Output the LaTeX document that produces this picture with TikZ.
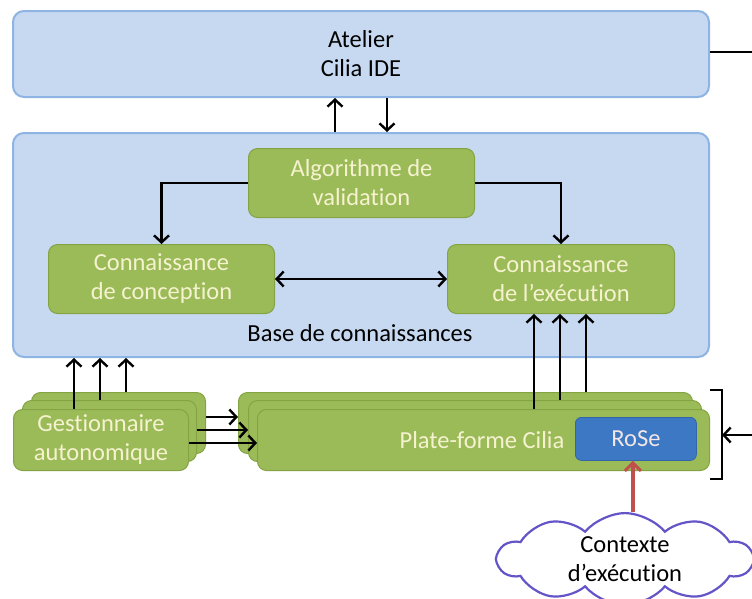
\documentclass[tikz,border=0pt]{standalone}
\usepackage{fontspec}
\setmainfont[RawFeature=-liga]{Carlito}
\usetikzlibrary{arrows.meta,shapes.symbols}
\definecolor{bluefill}{HTML}{C6D9F1}
\definecolor{blueline}{HTML}{8EB4E3}
\definecolor{greenfill}{HTML}{9BBB59}
\definecolor{greenline}{HTML}{84A444}
\definecolor{cream}{HTML}{F6F2CF}
\definecolor{rosefill}{HTML}{3D78C4}
\definecolor{rosetext}{HTML}{F2E6E6}
\definecolor{redarrow}{HTML}{C0504D}
\definecolor{cloudline}{HTML}{6355C8}
\begin{document}
\begin{tikzpicture}[x=1pt,y=-1pt,
  font=\fontsize{24.5}{29}\selectfont,
  bluebox/.style={draw=blueline, fill=bluefill, line width=2pt, rounded corners=11pt, inner sep=0pt, anchor=north west, align=center},
  greenbox/.style={draw=greenline, fill=greenfill, line width=1pt, rounded corners=9pt, text=cream, inner sep=0pt, anchor=north west, align=center},
  arr/.style={line width=2.6pt, -{Straight Barb[length=7pt,width=15pt,line width=2.4pt]}},
  darr/.style={line width=2.6pt, {Straight Barb[length=7pt,width=15pt,line width=2.4pt]}-{Straight Barb[length=7pt,width=15pt,line width=2.4pt]}},
]
\useasboundingbox (0,0) rectangle (752,598);

% blue containers
\node[bluebox, minimum width=696pt, minimum height=86pt] (atelier) at (12,10) {Atelier\\Cilia IDE};
\node[bluebox, minimum width=696pt, minimum height=224pt] (base) at (12,132) {};
\node (baselabel) at (360,333) {Base de connaissances};

% green boxes inside base
\node[greenbox, minimum width=226pt, minimum height=69pt] (algo) at (248,148) {Algorithme de\\validation};
\node[greenbox, minimum width=226pt, minimum height=69pt] (concep) at (48,244) {Connaissance\\de conception};
\node[greenbox, minimum width=227pt, minimum height=69pt] (exec) at (447,244) {Connaissance\\de l’exécution};

% Gestionnaire stack
\node[greenbox, minimum width=174pt, minimum height=61pt] (gestB) at (31,392) {};
\node[greenbox, minimum width=174pt, minimum height=61pt] (gestM) at (22,400) {};
\node[greenbox, minimum width=175pt, minimum height=61pt] (gestF) at (13,409) {Gestionnaire\\autonomique};

% Plate-forme stack
\node[greenbox, minimum width=454pt, minimum height=61pt] (platB) at (238,392) {};
\node[greenbox, minimum width=453pt, minimum height=61pt] (platM) at (248,400) {};
\node[greenbox, minimum width=452pt, minimum height=61pt] (platF) at (257,409) {};
\node[text=cream] (platlabel) at (482,440) {Plate-forme Cilia};
\node[draw=rosefill!85!black, line width=0.8pt, fill=rosefill, rounded corners=6pt, text=rosetext, minimum width=121pt, minimum height=43pt, inner sep=0pt, anchor=north west] (rose) at (575,417) {RoSe};

% cloud
\node[cloud, cloud puffs=10, cloud puff arc=100, aspect=3.4, draw=cloudline, line width=2.2pt, fill=white, minimum width=254pt, minimum height=78pt, inner sep=0pt, align=center] (ctx) at (625,559) {Contexte\\d’exécution};

% Atelier <-> Base
\draw[arr] ([xshift=323pt]base.north west) -- ([xshift=323pt]atelier.south west);
\draw[arr] ([xshift=375pt]atelier.south west) -- ([xshift=375pt]base.north west);

% inside base
\draw[arr] (algo.west) -| (concep.north);
\draw[arr] (algo.east) -| (exec.north);
\draw[darr] (concep.east) -- (exec.west);

% gestionnaire -> base
\draw[arr] ([xshift=61pt]gestF.north west) -- ([xshift=62pt]base.south west);
\draw[arr] ([xshift=78pt]gestM.north west) -- ([xshift=88pt]base.south west);
\draw[arr] ([xshift=95pt]gestB.north west) -- ([xshift=114pt]base.south west);

% gestionnaire -> plate-forme
\draw[arr] ([yshift=-25pt]gestB.north east) -- ([yshift=-25pt]platB.north west);
\draw[arr] ([yshift=-30pt]gestM.north east) -- ([yshift=-30pt]platM.north west);
\draw[arr] ([yshift=-34pt]gestF.north east) -- ([yshift=-34pt]platF.north west);

% plate-forme -> execution
\draw[arr] ([xshift=277pt]platF.north west) -- ([xshift=87pt]exec.south west);
\draw[arr] ([xshift=312pt]platM.north west) -- ([xshift=113pt]exec.south west);
\draw[arr] ([xshift=348pt]platB.north west) -- ([xshift=139pt]exec.south west);

% bracket and outside links
\coordinate (brktop) at (710,390);
\coordinate (brkbot) at (710,479);
\coordinate (brk) at (722,435);
\coordinate (rightin) at (752,435);
\coordinate (rightout) at (752,52);
\draw[line width=2.6pt] (brktop) -- (722,390) -- (722,479) -- (brkbot);
\draw[arr] (rightin) -- (brk);
\draw[line width=2.6pt] (atelier.east |- rightout) -- (rightout);

% context -> RoSe
\draw[redarrow, line width=3.5pt, -{Straight Barb[length=8pt,width=16pt,line width=3pt]}] ([xshift=-3pt]rose.south |- ctx.north) -- ([xshift=-3pt]rose.south);
\end{tikzpicture}
\end{document}
